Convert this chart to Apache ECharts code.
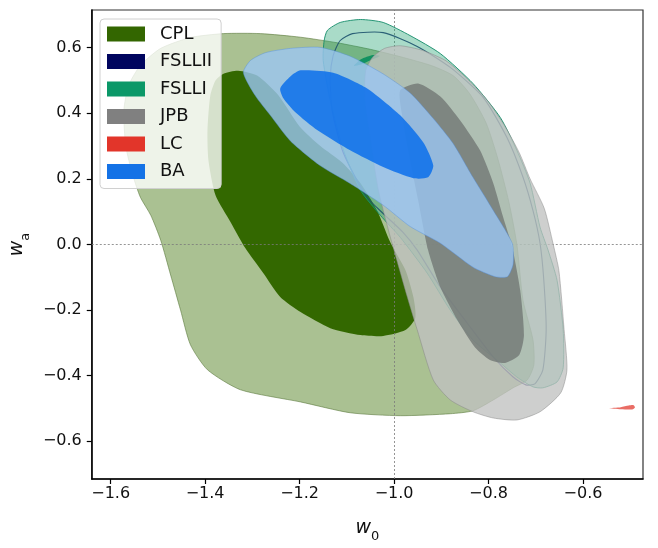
<!DOCTYPE html>
<html>
<head>
<meta charset="utf-8">
<script src="https://cdn.jsdelivr.net/npm/echarts@6/dist/echarts.min.js"></script>
<style>
  html, body { margin: 0; padding: 0; background: #ffffff; }
  #chart { width: 658px; height: 548px; }
</style>
</head>
<body>
<div id="chart"></div>
<script>
// Tick positions of the two axes
const xTicks = [-1.6, -1.4, -1.2, -1.0, -0.8, -0.6];
const yTicks = [-0.6, -0.4, -0.2, 0.0, 0.2, 0.4, 0.6];

// Model names in legend order
const models = ['CPL', 'FSLLII', 'FSLLI', 'JPB', 'LC', 'BA'];

// Reference values (ΛCDM: w0 = -1, wa = 0)
const refW0 = -1.0;
const refWa = 0.0;

// Confidence contours in the (w0, wa) plane, [w0, wa] per vertex
const cplOuter = [
  [-1.494, 0.013], [-1.515, 0.089], [-1.537, 0.144], [-1.553, 0.211], [-1.568, 0.300],
  [-1.572, 0.409], [-1.562, 0.485], [-1.537, 0.546], [-1.494, 0.598], [-1.431, 0.631],
  [-1.361, 0.643], [-1.283, 0.643], [-1.198, 0.632], [-1.120, 0.615], [-1.050, 0.595],
  [-0.980, 0.570], [-0.920, 0.545], [-0.875, 0.515], [-0.840, 0.460], [-0.805, 0.370],
  [-0.780, 0.260], [-0.757, 0.130], [-0.740, 0.000], [-0.727, -0.170], [-0.706, -0.290],
  [-0.704, -0.367], [-0.718, -0.413], [-0.748, -0.437], [-0.790, -0.474], [-0.833, -0.507],
  [-0.881, -0.516], [-0.987, -0.522], [-1.093, -0.513], [-1.198, -0.480], [-1.325, -0.443],
  [-1.395, -0.382], [-1.431, -0.306], [-1.452, -0.200], [-1.473, -0.093]
];
const cplInner = [
  [-1.378, 0.500], [-1.361, 0.521], [-1.330, 0.530], [-1.290, 0.515], [-1.245, 0.455],
  [-1.200, 0.360], [-1.156, 0.300], [-1.110, 0.250], [-1.071, 0.187], [-1.036, 0.104],
  [-1.008, 0.007], [-0.976, -0.078], [-0.959, -0.161], [-0.955, -0.224], [-0.976, -0.261],
  [-1.023, -0.279], [-1.071, -0.276], [-1.135, -0.255], [-1.198, -0.206], [-1.241, -0.160],
  [-1.277, -0.087], [-1.315, -0.011], [-1.346, 0.068], [-1.378, 0.150], [-1.393, 0.257],
  [-1.395, 0.348], [-1.389, 0.454]
];
const fsll2Outer = [
  [-1.135, 0.509], [-1.129, 0.576], [-1.114, 0.622], [-1.088, 0.643], [-1.023, 0.646],
  [-0.951, 0.604], [-0.881, 0.540], [-0.811, 0.448], [-0.761, 0.326], [-0.727, 0.205],
  [-0.706, 0.104], [-0.691, 0.004], [-0.683, -0.109], [-0.678, -0.260], [-0.685, -0.382],
  [-0.702, -0.425], [-0.721, -0.428], [-0.748, -0.404], [-0.790, -0.343], [-0.845, -0.240],
  [-0.902, -0.130], [-0.951, -0.017], [-0.981, 0.037], [-1.019, 0.089], [-1.057, 0.144],
  [-1.107, 0.278], [-1.131, 0.409]
];
const fsll1Outer = [
  [-1.150, 0.561], [-1.148, 0.622], [-1.141, 0.653], [-1.114, 0.677], [-1.071, 0.686],
  [-1.023, 0.677], [-0.966, 0.637], [-0.902, 0.582], [-0.833, 0.491], [-0.775, 0.387],
  [-0.740, 0.287], [-0.712, 0.187], [-0.691, 0.053], [-0.674, -0.017], [-0.655, -0.109],
  [-0.642, -0.260], [-0.642, -0.376], [-0.655, -0.419], [-0.685, -0.437], [-0.706, -0.434],
  [-0.740, -0.404], [-0.775, -0.361], [-0.833, -0.291], [-0.881, -0.200], [-0.930, -0.087],
  [-0.987, 0.022], [-1.029, 0.089], [-1.071, 0.165], [-1.107, 0.287], [-1.135, 0.439]
];
const fsll1Inner = [
  [-1.085, 0.545], [-1.070, 0.565], [-1.045, 0.578], [-1.030, 0.575], [-1.050, 0.562],
  [-1.072, 0.548]
];
const jpbOuter = [
  [-1.046, 0.570], [-1.020, 0.598], [-0.987, 0.606], [-0.940, 0.592], [-0.890, 0.560],
  [-0.845, 0.505], [-0.803, 0.440], [-0.765, 0.360], [-0.735, 0.280], [-0.712, 0.200],
  [-0.682, 0.110], [-0.663, 0.000], [-0.651, -0.080], [-0.640, -0.260], [-0.634, -0.382],
  [-0.647, -0.452], [-0.691, -0.510], [-0.740, -0.535], [-0.790, -0.529], [-0.833, -0.510],
  [-0.881, -0.474], [-0.917, -0.413], [-0.951, -0.260], [-0.972, -0.160], [-0.993, -0.054],
  [-1.012, 0.044], [-1.033, 0.165], [-1.050, 0.318], [-1.062, 0.440], [-1.060, 0.530]
];
const jpbInner = [
  [-0.987, 0.470], [-0.949, 0.491], [-0.902, 0.451], [-0.860, 0.378], [-0.818, 0.287],
  [-0.790, 0.187], [-0.769, 0.083], [-0.750, -0.008], [-0.733, -0.139], [-0.725, -0.276],
  [-0.735, -0.337], [-0.765, -0.361], [-0.797, -0.352], [-0.828, -0.315], [-0.866, -0.230],
  [-0.902, -0.130], [-0.928, -0.017], [-0.949, 0.135], [-0.970, 0.287], [-0.983, 0.394]
];
const lcRegion = [
  [-0.545, -0.499], [-0.520, -0.496], [-0.503, -0.491], [-0.493, -0.490], [-0.490, -0.497],
  [-0.496, -0.503], [-0.520, -0.502]
];
const baOuter = [
  [-1.319, 0.524], [-1.304, 0.561], [-1.272, 0.585], [-1.219, 0.598], [-1.156, 0.601],
  [-1.093, 0.574], [-1.023, 0.520], [-0.966, 0.462], [-0.917, 0.384], [-0.875, 0.308],
  [-0.833, 0.205], [-0.790, 0.104], [-0.750, 0.004], [-0.748, -0.060], [-0.760, -0.098],
  [-0.786, -0.098], [-0.833, -0.069], [-0.902, 0.004], [-0.966, 0.055], [-1.023, 0.120],
  [-1.093, 0.186], [-1.156, 0.240], [-1.219, 0.315], [-1.262, 0.394], [-1.294, 0.454]
];
const baInner = [
  [-1.241, 0.476], [-1.219, 0.513], [-1.198, 0.531], [-1.129, 0.524], [-1.057, 0.476],
  [-0.987, 0.394], [-0.938, 0.311], [-0.917, 0.241], [-0.928, 0.205], [-0.959, 0.202],
  [-1.023, 0.236], [-1.093, 0.287], [-1.162, 0.348], [-1.209, 0.403], [-1.234, 0.445]
];

// Legend swatch colour of each model
const legendColors = {
  CPL: '#336600',
  FSLLII: '#00055e',
  FSLLI: '#0b9868',
  JPB: '#808080',
  LC: '#e2352a',
  BA: '#1472e6'
};

const FONT = 'DejaVu Sans';

// One filled / outlined contour drawn as a smoothed polygon in data space
function contour(name, pts, style, z) {
  return {
    name: name,
    type: 'custom',
    coordinateSystem: 'cartesian2d',
    data: pts,
    encode: { x: 0, y: 1 },
    z: z,
    clip: true,
    silent: true,
    itemStyle: { color: legendColors[name] },
    renderItem: function (params, api) {
      if (params.dataIndex !== 0) return null;
      return {
        type: 'polygon',
        shape: { points: pts.map(function (p) { return api.coord(p); }), smooth: 0.22 },
        style: style
      };
    }
  };
}

const fmt = function (v) {
  const s = Math.abs(v).toFixed(1);
  return v < -1e-9 ? '\u2212' + s : s;
};

const series = [
  contour('CPL', cplOuter, { fill: 'rgb(170,193,146)', stroke: 'rgba(90,120,60,0.75)', lineWidth: 0.8 }, 2),
  contour('CPL', cplInner, { fill: 'rgb(51,104,0)', stroke: 'none' }, 3),
  contour('FSLLII', fsll2Outer, { fill: 'none', stroke: 'rgba(30,35,110,0.9)', lineWidth: 1.1 }, 4),
  contour('FSLLI', fsll1Outer, { fill: 'rgba(30,160,110,0.38)', stroke: 'rgba(20,140,105,0.9)', lineWidth: 1.0 }, 5),
  contour('FSLLI', fsll1Inner, { fill: 'rgba(0,140,90,0.85)', stroke: 'none' }, 6),
  contour('JPB', jpbOuter, { fill: 'rgba(192,194,192,0.78)', stroke: 'rgba(130,130,130,0.6)', lineWidth: 0.8 }, 7),
  contour('JPB', jpbInner, { fill: 'rgba(110,115,112,0.75)', stroke: 'none' }, 8),
  contour('LC', lcRegion, { fill: 'rgba(225,60,50,0.75)', stroke: 'none' }, 9),
  contour('BA', baOuter, { fill: 'rgba(155,198,242,0.8)', stroke: 'rgba(80,140,220,0.5)', lineWidth: 0.8 }, 10),
  contour('BA', baInner, { fill: 'rgba(10,110,235,0.85)', stroke: 'none' }, 11),
  {
    name: 'ref',
    type: 'line',
    data: [],
    z: 20,
    silent: true,
    markLine: {
      silent: true,
      symbol: 'none',
      label: { show: false },
      lineStyle: { color: '#7a7a7a', width: 0.8, type: [2, 2] },
      data: [{ xAxis: refW0 }, { yAxis: refWa }],
      animation: false
    }
  }
];

const chart = echarts.init(document.getElementById('chart'), null, { renderer: 'canvas' });
chart.setOption({
  animation: false,
  backgroundColor: '#ffffff',
  grid: {
    left: 91, right: 15, top: 10, bottom: 69,
    show: true, borderColor: '#333', borderWidth: 1.2, backgroundColor: 'transparent'
  },
  legend: {
    data: models,
    orient: 'vertical',
    left: 100,
    top: 19,
    icon: 'rect',
    itemWidth: 38,
    itemHeight: 15,
    itemGap: 9.5,
    padding: [6, 9, 8, 7],
    backgroundColor: 'rgba(255,255,255,0.8)',
    borderColor: '#d0d0d0',
    borderWidth: 1,
    borderRadius: 4,
    selectedMode: false,
    textStyle: { fontFamily: FONT, fontSize: 18, color: '#111', lineHeight: 18, padding: [0, 0, 0, 10] }
  },
  xAxis: {
    type: 'value',
    min: -1.64,
    max: -0.473,
    name: '{i|w}{s|0}',
    nameLocation: 'middle',
    nameGap: 40,
    nameTextStyle: {
      rich: {
        i: { fontFamily: FONT, fontStyle: 'italic', fontSize: 19, color: '#111', verticalAlign: 'bottom' },
        s: { fontFamily: FONT, fontSize: 13, color: '#111', verticalAlign: 'bottom', padding: [0, 0, -5, 0] }
      }
    },
    axisLine: { show: true, onZero: false, lineStyle: { color: '#000', width: 1.5 } },
    axisTick: { show: true, length: 5, lineStyle: { color: '#000', width: 1.2 }, customValues: xTicks },
    axisLabel: { fontFamily: FONT, fontSize: 16, color: '#111', margin: 7, formatter: fmt, customValues: xTicks },
    splitLine: { show: false }
  },
  yAxis: {
    type: 'value',
    min: -0.715,
    max: 0.715,
    name: '{i|w}{s|a}',
    nameLocation: 'middle',
    nameGap: 62,
    nameTextStyle: {
      rich: {
        i: { fontFamily: FONT, fontStyle: 'italic', fontSize: 19, color: '#111', verticalAlign: 'bottom' },
        s: { fontFamily: FONT, fontSize: 13, color: '#111', verticalAlign: 'bottom', padding: [0, 0, -5, 0] }
      }
    },
    axisLine: { show: true, onZero: false, lineStyle: { color: '#000', width: 1.5 } },
    axisTick: { show: true, length: 5, lineStyle: { color: '#000', width: 1.2 }, customValues: yTicks },
    axisLabel: { fontFamily: FONT, fontSize: 16, color: '#111', margin: 10, formatter: fmt, customValues: yTicks },
    splitLine: { show: false }
  },
  series: series
});
</script>
</body>
</html>
